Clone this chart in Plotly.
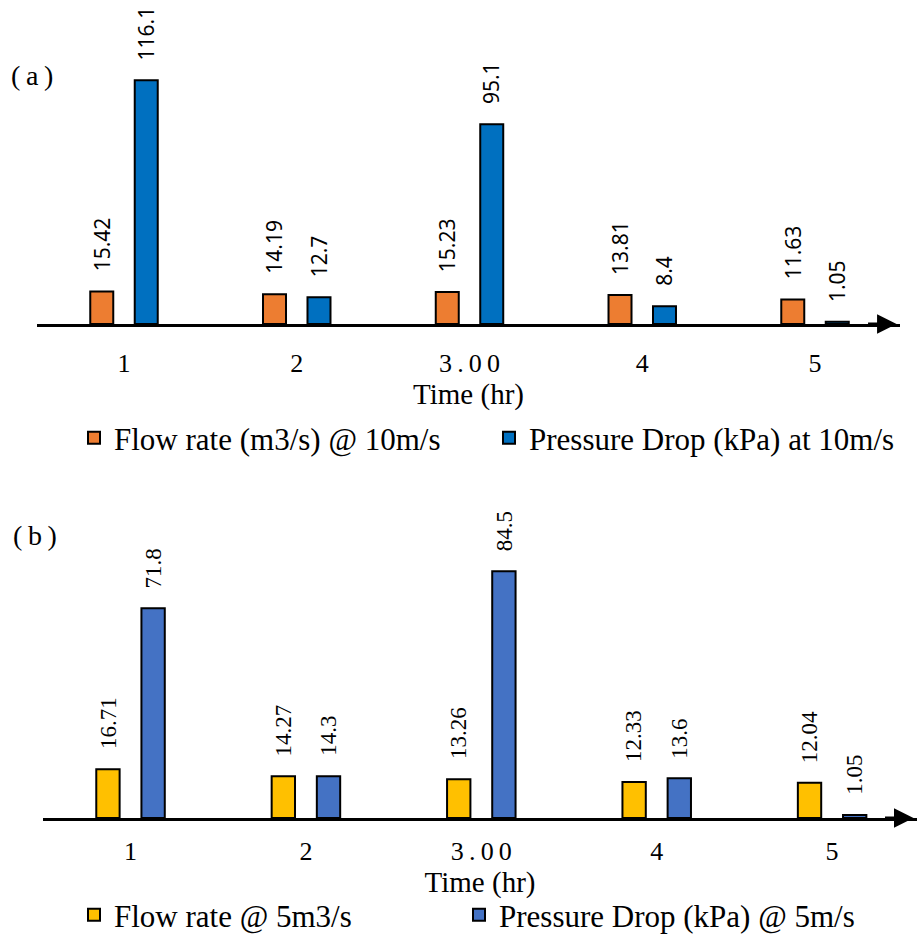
import plotly.graph_objects as go

# ---------------- data ----------------
categories = ["1", "2", "3.00", "4", "5"]
tick_labels = ["1", "2", "3\u2009.\u20090\u20090", "4", "5"]

flow_10 = [15.42, 14.19, 15.23, 13.81, 11.63]
dp_10 = [116.1, 12.7, 95.1, 8.4, 1.05]
flow_5 = [16.71, 14.27, 13.26, 12.33, 12.04]
dp_5 = [71.8, 14.3, 84.5, 13.6, 1.05]

names_a = ["Flow rate (m3/s) @ 10m/s", "Pressure Drop (kPa) at 10m/s"]
names_b = ["Flow rate @ 5m3/s", "Pressure Drop (kPa) @ 5m/s"]
colors_a = ["#ED7D31", "#0070C0"]
colors_b = ["#FFC000", "#4472C4"]

W, H = 922, 934
SERIF = "'Liberation Serif', 'Times New Roman', Times, serif"
SANS = "'Noto Sans', sans-serif"


def px_x(p):
    return p / W


def px_y(p):
    return 1 - p / H


fig = go.Figure()

for vals, name, col, lw in zip([flow_10, dp_10], names_a, colors_a, [370, 400]):
    fig.add_trace(go.Bar(
        x=categories, y=vals, name=name, xaxis="x", yaxis="y", legend="legend",
        legendwidth=lw,
        marker=dict(color=col, line=dict(color="black", width=2)),
        hoverinfo="x+y",
    ))
for vals, name, col, lw in zip([flow_5, dp_5], names_b, colors_b, [340, 400]):
    fig.add_trace(go.Bar(
        x=categories, y=vals, name=name, xaxis="x2", yaxis="y2", legend="legend2",
        legendwidth=lw,
        marker=dict(color=col, line=dict(color="black", width=2)),
        hoverinfo="x+y",
    ))

annotations = []
# value labels (x given as category index)
for vals, shift in zip([flow_10, dp_10], [-22.25, 22.25]):
    for i, v in enumerate(vals):
        annotations.append(dict(
            x=i, y=v, xref="x", yref="y", text=str(v), showarrow=False,
            textangle=-90, xanchor="center", yanchor="bottom",
            xshift=shift, yshift=18, font=dict(family=SANS, size=21, color="black"),
        ))
for vals, shift in zip([flow_5, dp_5], [-22.7, 22.7]):
    for i, v in enumerate(vals):
        annotations.append(dict(
            x=i, y=v, xref="x2", yref="y2", text=str(v), showarrow=False,
            textangle=-90, xanchor="center", yanchor="bottom",
            xshift=shift, yshift=18, font=dict(family=SERIF, size=23, color="black"),
        ))

# axis arrows
for xr, yr in [("x domain", "y"), ("x2 domain", "y2")]:
    annotations.append(dict(
        x=0.996, y=0, xref=xr, yref=yr, ax=-30, ay=0, axref="pixel", ayref="pixel",
        showarrow=True, arrowhead=2, arrowsize=1.3, arrowwidth=3, arrowcolor="black",
        text="",
    ))

# panel labels
annotations.append(dict(x=px_x(32), y=px_y(76), xref="paper", yref="paper", text="(\u2009a\u2009)",
                        xanchor="center", yanchor="middle",
                        showarrow=False, font=dict(family=SERIF, size=28, color="black")))
annotations.append(dict(x=px_x(35), y=px_y(535), xref="paper", yref="paper", text="(\u2009b\u2009)",
                        xanchor="center", yanchor="middle",
                        showarrow=False, font=dict(family=SERIF, size=28, color="black")))

common_x = dict(
    type="category", showline=True, linecolor="black", linewidth=3, ticks="",
    showgrid=False, zeroline=False, tickvals=categories, ticktext=tick_labels,
    tickfont=dict(family=SERIF, size=26, color="black"), fixedrange=True, automargin=False,
)

fig.update_layout(
    width=W, height=H,
    margin=dict(l=0, r=0, t=0, b=0, autoexpand=False),
    paper_bgcolor="white", plot_bgcolor="white",
    barmode="group", bargap=0.485, bargroupgap=0.483,
    xaxis=dict(domain=[px_x(37), px_x(900)], range=[-0.5036, 4.492], anchor="y",
               ticklabelstandoff=14,
               title=dict(text="Time (hr)", font=dict(family=SERIF, size=29, color="black"), standoff=0),
               **common_x),
    yaxis=dict(domain=[px_y(324), px_y(30)], range=[0, 140], visible=False, fixedrange=True),
    xaxis2=dict(domain=[px_x(43), px_x(917)], range=[-0.499, 4.484], anchor="y2",
                ticklabelstandoff=8,
                title=dict(text="Time (hr)", font=dict(family=SERIF, size=29, color="black"), standoff=0),
                **common_x),
    yaxis2=dict(domain=[px_y(818), px_y(520)], range=[0, 102.05], visible=False, fixedrange=True),
    legend=dict(x=px_x(74), y=px_y(438), xref="paper", yref="paper", xanchor="left", yanchor="middle",
                orientation="h", font=dict(family=SERIF, size=31, color="black"),
                bgcolor="rgba(0,0,0,0)", itemwidth=30, traceorder="normal"),
    legend2=dict(x=px_x(74), y=px_y(915), xref="paper", yref="paper", xanchor="left", yanchor="middle",
                 orientation="h", font=dict(family=SERIF, size=31, color="black"),
                 bgcolor="rgba(0,0,0,0)", itemwidth=30, traceorder="normal"),
    annotations=annotations,
    showlegend=True,
)

fig.write_html("out.html")
